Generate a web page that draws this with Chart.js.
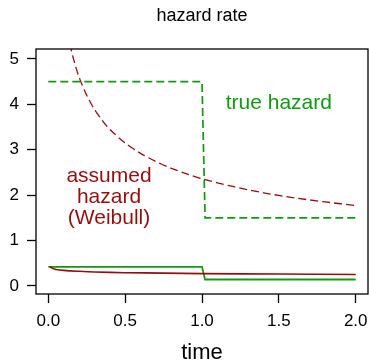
<!DOCTYPE html>
<html>
<head>
<meta charset="utf-8">
<script src="https://cdn.jsdelivr.net/npm/chart.js@4"></script>
<style>
    html, body { margin: 0; padding: 0; background: #fff; }
    #wrap { width: 369px; height: 362px; }
</style>
</head>
<body>
<div id="wrap"><canvas id="myChart" width="369" height="362"></canvas></div>
<script>
// values
const xTicks = [0, 0.5, 1, 1.5, 2]
const yTicks = [0, 1, 2, 3, 4, 5]

const trueHazardT = [0, 1.0, 1.02, 2.0]
const trueHazardV = [4.5, 4.5, 1.5, 1.5]

const weibullT = [0.14, 0.15, 0.16, 0.18, 0.2, 0.25, 0.3, 0.35, 0.4, 0.5, 0.6, 0.7, 0.8, 0.9, 1.0, 1.2, 1.4, 1.6, 1.8, 2.0]
const weibullV = [5.34, 5.19, 5.05, 4.81, 4.6, 4.2, 3.89, 3.65, 3.45, 3.15, 2.92, 2.74, 2.59, 2.47, 2.36, 2.19, 2.05, 1.94, 1.85, 1.77]

const trueLowT = [0, 1.0, 1.02, 2.0]
const trueLowV = [0.42, 0.42, 0.14, 0.14]

const assumedLowT = [0.01, 0.03, 0.05, 0.1, 0.2, 0.3, 0.5, 0.75, 1.0, 1.5, 2.0]
const assumedLowV = [0.42, 0.38, 0.36, 0.34, 0.32, 0.305, 0.29, 0.28, 0.27, 0.26, 0.25]

const GREEN = '#129912'
const RED = '#940e0e'
const FONT = '"Liberation Sans", Arial, sans-serif'

const toPoints = (ts, vs) => ts.map((t, i) => ({ x: t, y: vs[i] }))

const textPlugin = {
    id: 'rText',
    afterDraw(chart) {
        const { ctx, chartArea, scales } = chart
        const x = scales.x, y = scales.y
        const midX = (chartArea.left + chartArea.right) / 2

        ctx.save()
        // box
        ctx.strokeStyle = '#000'
        ctx.lineWidth = 1.3
        ctx.strokeRect(chartArea.left, chartArea.top, chartArea.right - chartArea.left, chartArea.bottom - chartArea.top)

        ctx.textAlign = 'center'
        ctx.textBaseline = 'middle'

        ctx.fillStyle = '#000'
        ctx.font = `18px ${FONT}`
        ctx.fillText('hazard rate', midX, 16)

        ctx.font = `22px ${FONT}`
        ctx.fillText('time', midX, 353)

        ctx.font = `21px ${FONT}`
        ctx.fillStyle = GREEN
        ctx.fillText('true hazard', x.getPixelForValue(1.5), y.getPixelForValue(4.03))

        ctx.fillStyle = RED
        const lines = ['assumed', 'hazard', '(Weibull)']
        const cx = x.getPixelForValue(0.395)
        const cy = y.getPixelForValue(1.95)
        lines.forEach((s, i) => ctx.fillText(s, cx, cy + (i - 1) * 21))
        ctx.restore()
    }
}

const noPad = scale => {
    scale.paddingLeft = 0
    scale.paddingRight = 0
    scale.paddingTop = 0
    scale.paddingBottom = 0
}

const ctx = document.getElementById('myChart')

new Chart(ctx, {
    type: 'line',
    data: {
        datasets: [{
            data: toPoints(weibullT, weibullV),
            borderColor: RED,
            borderWidth: 1.3,
            borderDash: [8, 4],
            tension: 0.3
        }, {
            data: toPoints(assumedLowT, assumedLowV),
            borderColor: RED,
            borderWidth: 1.6,
            tension: 0.3
        }, {
            data: toPoints(trueLowT, trueLowV),
            borderColor: GREEN,
            borderWidth: 1.8
        }, {
            data: toPoints(trueHazardT, trueHazardV),
            borderColor: GREEN,
            borderWidth: 1.7,
            borderDash: [8, 4]
        }]
    },
    options: {
        responsive: false,
        animation: false,
        layout: { padding: { top: 49, right: 1, left: 0, bottom: 0 } },
        elements: { point: { radius: 0 } },
        plugins: { legend: { display: false }, tooltip: { enabled: false } },
        scales: {
            x: {
                type: 'linear',
                min: -0.08,
                max: 2.08,
                afterBuildTicks: scale => { scale.ticks = xTicks.map(v => ({ value: v })) },
                afterFit: scale => { scale.height = 68; noPad(scale) },
                border: { display: false },
                grid: { drawOnChartArea: false, drawTicks: true, tickLength: 9, tickColor: '#000', tickWidth: 1.3 },
                ticks: {
                    color: '#000',
                    font: { family: FONT, size: 17 },
                    padding: 8,
                    maxRotation: 0,
                    callback: v => v.toFixed(1)
                }
            },
            y: {
                type: 'linear',
                min: -0.18,
                max: 5.22,
                afterBuildTicks: scale => { scale.ticks = yTicks.map(v => ({ value: v })) },
                afterFit: scale => { scale.width = 36; noPad(scale) },
                border: { display: false },
                grid: { drawOnChartArea: false, drawTicks: true, tickLength: 9, tickColor: '#000', tickWidth: 1.3 },
                ticks: {
                    color: '#000',
                    font: { family: FONT, size: 17 },
                    padding: 8,
                    callback: v => String(v)
                }
            }
        }
    },
    plugins: [textPlugin]
})
</script>
</body>
</html>
